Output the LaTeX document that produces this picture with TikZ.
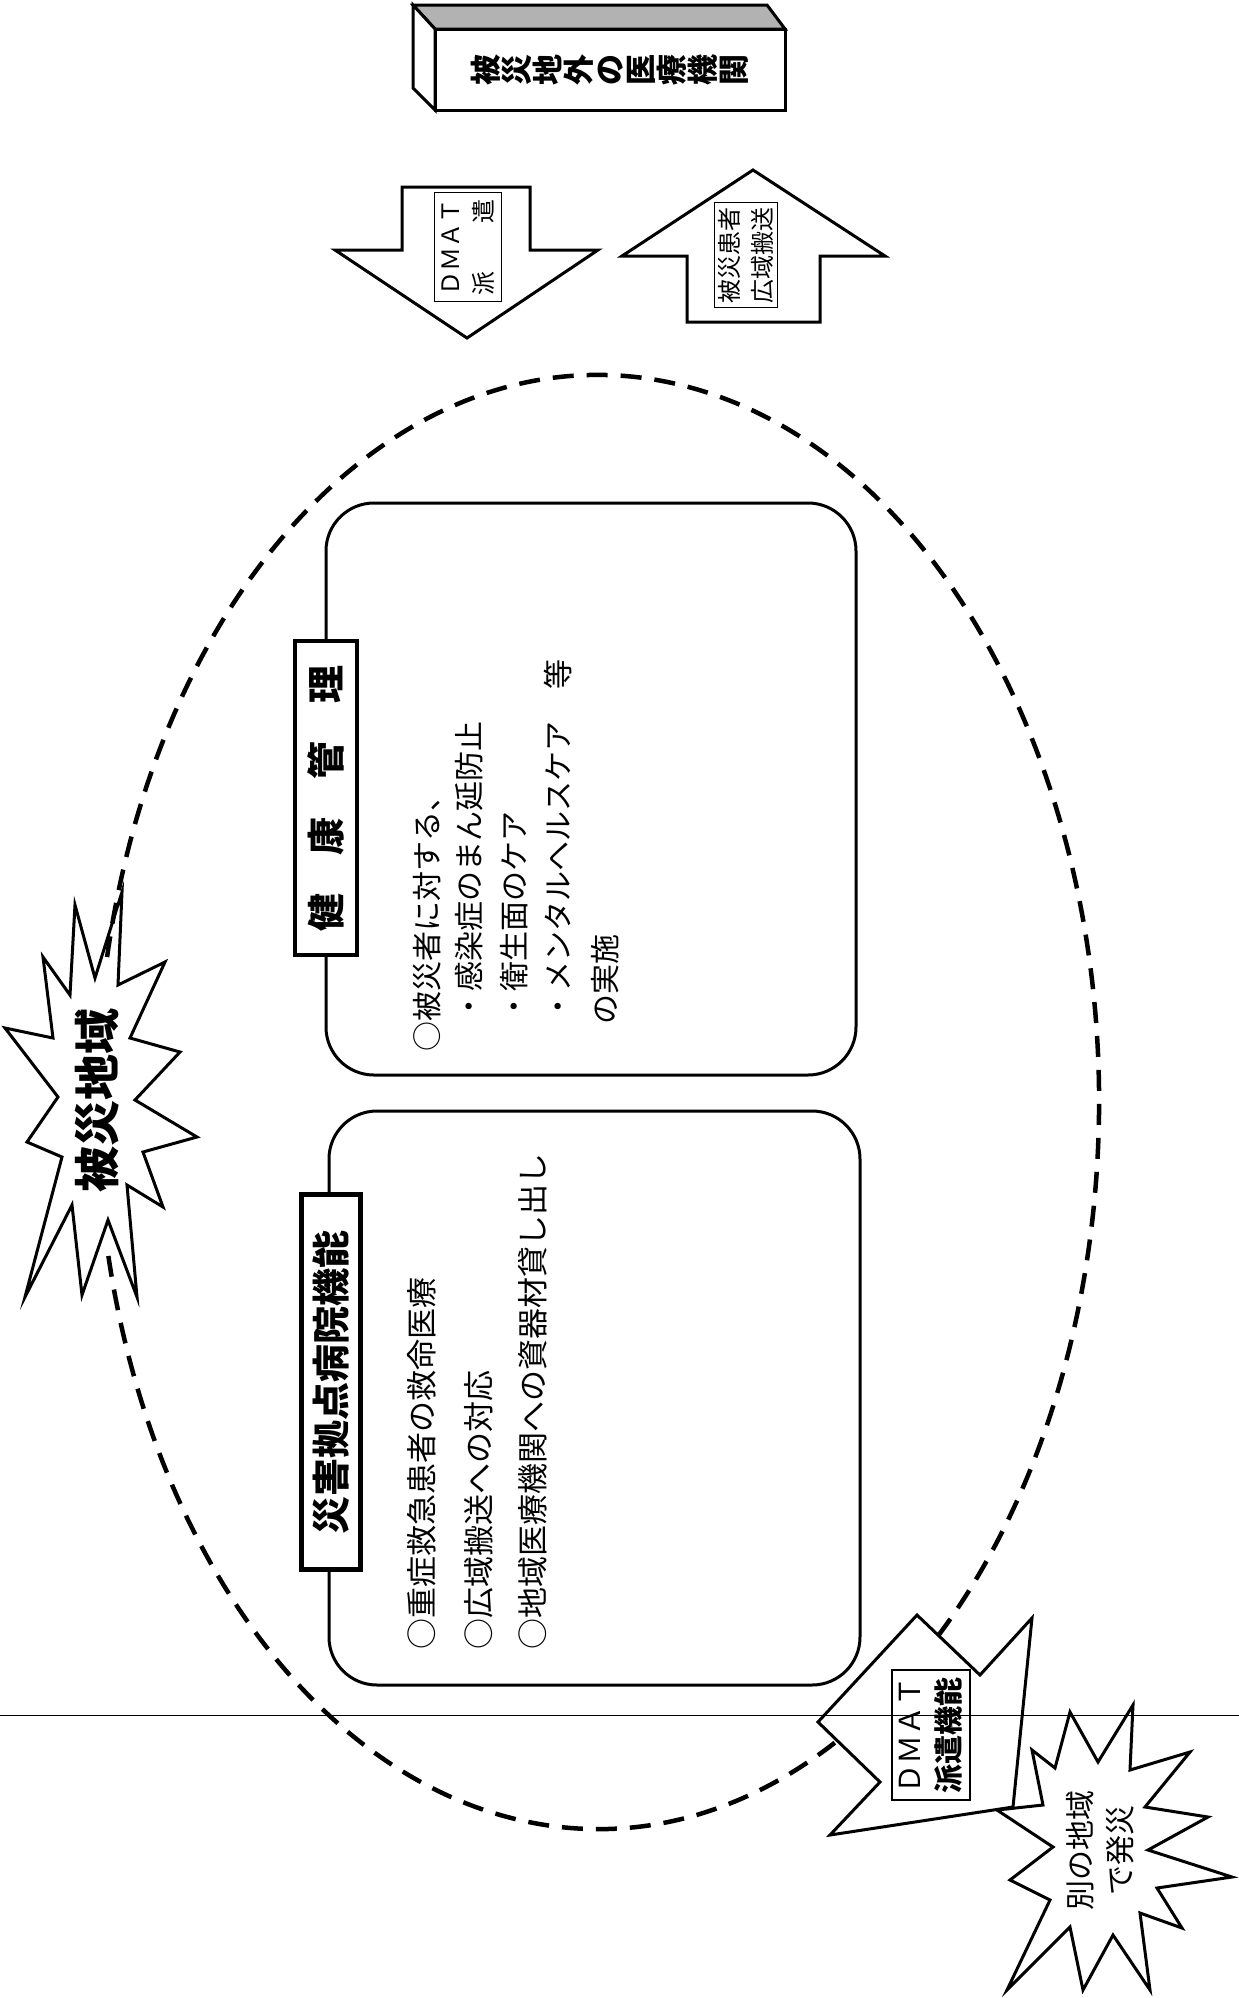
\documentclass[tikz,border=0pt]{standalone}
\usepackage{fontspec}
\setmainfont{Noto Sans CJK JP}
\newcommand{\fsz}[2]{\fontsize{#1}{#2}\selectfont}
\tikzset{
  every picture/.style={line join=miter},
  blk/.style={draw,line width=3pt,fill=white},
  panel/.style={draw,line width=3pt,rounded corners=48pt},
  tagbox/.style={draw,line width=4.5pt,fill=white,rotate=90,inner sep=0pt,font=\bfseries\fsz{38}{38}},
  txtline/.style={rotate=90,anchor=west,inner sep=0pt,font=\fsz{30}{30}},
  labelbox/.style={draw,line width=1.8pt,fill=white,rotate=90,align=center,inner sep=2pt},
  zone/.style={dash pattern=on 21pt off 13pt,line width=4.5pt},
}

\begin{document}
\begin{tikzpicture}[x=1pt,y=-1pt]
  \useasboundingbox (0,0) rectangle (1239,1998);
  % hospitals outside, box with depth
  \filldraw[line width=3pt,fill=gray!60] (413,5) -- (767,5) -- (785,29) -- (435,29) -- cycle;
  \filldraw[line width=3pt,fill=white] (413,5) -- (435,29) -- (435,110) -- (413,88) -- cycle;
  \node[draw,line width=3pt,minimum width=350pt,minimum height=81pt,inner sep=0pt] (outer) at (610,69.5) {};
  \node[rotate=90,align=center,inner sep=0pt,font=\bfseries\fsz{31}{31}] (outertxt) at (outer.center) {被\\災\\地\\外\\の\\医\\療\\機\\関};

  % the two block arrows
  \draw[blk] (402,187) -- (530,187) -- (530,250) -- (598,250) -- (467,338) -- (335,250) -- (402,250) -- cycle;
  \node[labelbox,font=\fsz{24}{33},minimum width=109pt,minimum height=67pt] (dmatdown) at (468,247) {ＤＭＡＴ\\派　　遣};
  \draw[blk] (753,170) -- (885,256) -- (820,256) -- (820,322) -- (687,322) -- (687,256) -- (622,256) -- cycle;
  \node[labelbox,font=\fsz{24}{33},minimum width=105pt,minimum height=63pt] (carry) at (746,255) {被災患者\\広域搬送};

  % stricken area
  \draw[blk] (122,892) -- (118,985) -- (165,962) -- (130,1038) -- (180,1052) -- (135,1100)
    -- (197,1137) -- (143,1152) -- (163,1207) -- (127,1185) -- (137,1297) -- (108,1220)
    -- (82,1295) -- (72,1205) -- (25,1297) -- (62,1157) -- (27,1142) -- (58,1097)
    -- (5,1028) -- (53,1038) -- (43,957) -- (70,995) -- (75,905) -- (95,978) -- cycle;
  \node[rotate=90,inner sep=0pt,font=\bfseries\fsz{46}{46}] (hit) at (97,1100) {被災地域};
  \draw[zone] (598,1102) ++(191.5:501 and 727)
    arc[start angle=191.5,end angle=528,x radius=501,y radius=727];

  % health care
  \draw[panel] (326,503) rectangle (856,1075);
  \node[tagbox,minimum width=314pt,minimum height=62pt] (health) at (326,798) {健　康　管　理};
  \node[txtline] (h1) at (427,1052) {○被災者に対する、};
  \node[txtline] (h2) at (469,1022) {・感染症のまん延防止};
  \node[txtline] (h3) at (514,1022) {・衛生面のケア};
  \node[txtline] (h4) at (558,1022) {・メンタルヘルスケア\hspace{32pt}等};
  \node[txtline] (h5) at (605,1025) {の実施};

  % base hospital
  \draw[panel] (329,1111) rectangle (860,1685);
  \node[tagbox,minimum width=375pt,minimum height=59pt] (base) at (331,1382) {災害拠点病院機能};
  \node[txtline,font=\fsz{31}{31}] (b1) at (422,1650) {○重症救急患者の救命医療};
  \node[txtline,font=\fsz{31}{31}] (b2) at (479,1650) {○広域搬送への対応};
  \node[txtline,font=\fsz{31}{31}] (b3) at (533,1650) {○地域医療機関への資器材貸し出し};

  % another area, DMAT sent out
  \draw[blk] (1032,1750) -- (1055,1768) -- (1070,1712) -- (1098,1762) -- (1133,1705) -- (1130,1770)
    -- (1190,1752) -- (1145,1807) -- (1208,1817) -- (1148,1850) -- (1232,1877) -- (1157,1888)
    -- (1182,1928) -- (1140,1913) -- (1150,1990) -- (1113,1935) -- (1083,1990) -- (1070,1927)
    -- (1007,1990) -- (1050,1900) -- (1010,1880) -- (1053,1847) -- (997,1810) -- (1043,1805) -- cycle;
  \node[rotate=90,align=center,inner sep=0pt,font=\fsz{30}{40}] (elsewhere) at (1100,1850) {別の地域\\で発災};
  \draw[blk] (917,1615) -- (980,1675) -- (1032,1618) -- (1013,1807) -- (830,1835) -- (880,1782) -- (818,1722) -- cycle;
  \node[labelbox,font=\fsz{29}{39},minimum width=130pt,minimum height=78pt] (dmatsend) at (931,1735) {ＤＭＡＴ\\\textbf{派遣機能}};

  \draw[line width=1pt] (0,1715) -- (1239,1715);
\end{tikzpicture}
\end{document}
